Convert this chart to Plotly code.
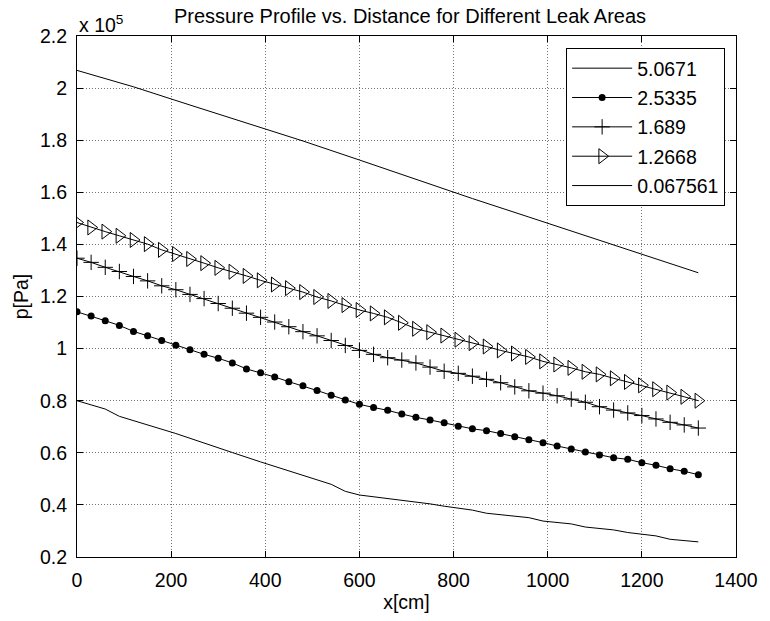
import plotly.graph_objects as go

# ---------------- data (pressure in units of 1e5 Pa) ----------------
legend_labels = ["5.0671", "2.5335", "1.689", "1.2668", "0.067561"]

x_marked = [i * 30 for i in range(45)]  # 0 .. 1320 cm

x_top = [0, 120, 240, 360, 480, 600, 720, 840, 960, 1080, 1200, 1320]
p_5_0671 = [2.068, 2.005, 1.935, 1.866, 1.797, 1.724, 1.650, 1.576, 1.505, 1.434, 1.363, 1.291]

p_2_5335 = [1.141, 1.125, 1.107, 1.089, 1.066, 1.049, 1.031, 1.013, 0.996, 0.978,
            0.963, 0.945, 0.922, 0.907, 0.891, 0.873, 0.857, 0.839, 0.821, 0.803,
            0.786, 0.774, 0.763, 0.749, 0.736, 0.726, 0.715, 0.702, 0.692, 0.685,
            0.674, 0.662, 0.650, 0.639, 0.626, 0.615, 0.603, 0.592, 0.581, 0.575,
            0.562, 0.552, 0.539, 0.529, 0.516]

p_1_689 = [1.347, 1.331, 1.312, 1.296, 1.277, 1.260, 1.241, 1.226, 1.208, 1.192,
           1.173, 1.155, 1.136, 1.120, 1.102, 1.084, 1.065, 1.049, 1.031, 1.012,
           0.993, 0.978, 0.965, 0.956, 0.945, 0.929, 0.913, 0.905, 0.894, 0.882,
           0.869, 0.853, 0.838, 0.829, 0.819, 0.806, 0.794, 0.777, 0.764, 0.753,
           0.743, 0.730, 0.717, 0.707, 0.695]

p_1_2668 = [1.484, 1.465, 1.449, 1.433, 1.417, 1.401, 1.379, 1.363, 1.344, 1.328,
            1.310, 1.295, 1.279, 1.262, 1.246, 1.232, 1.217, 1.198, 1.183, 1.167,
            1.148, 1.135, 1.120, 1.099, 1.076, 1.063, 1.050, 1.034, 1.021, 1.008,
            0.993, 0.981, 0.968, 0.951, 0.939, 0.926, 0.911, 0.901, 0.886, 0.872,
            0.859, 0.844, 0.831, 0.815, 0.800]

x_low = [0, 60, 90, 210, 330, 390, 540, 570, 600, 660, 690, 750, 780, 840, 870,
         960, 990, 1050, 1080, 1140, 1170, 1230, 1260, 1320]
p_0_067561 = [0.800, 0.768, 0.740, 0.674, 0.601, 0.565, 0.479, 0.452, 0.438, 0.425,
              0.418, 0.404, 0.395, 0.380, 0.368, 0.351, 0.338, 0.327, 0.315, 0.304,
              0.294, 0.281, 0.268, 0.258]

x_ticks = [0, 200, 400, 600, 800, 1000, 1200, 1400]
y_ticks = [0.2, 0.4, 0.6, 0.8, 1.0, 1.2, 1.4, 1.6, 1.8, 2.0, 2.2]

title_text = "Pressure Profile vs. Distance for Different Leak Areas"
x_title = "x[cm]"
y_title = "p[Pa]"
exponent_text = "x 10<sup>5</sup>"

# ---------------- figure ----------------
FONT = "Liberation Sans, Arial, Helvetica, sans-serif"
FS = 19.5

fig = go.Figure()

fig.add_trace(go.Scatter(x=x_top, y=p_5_0671, name=legend_labels[0], mode="lines",
                         line=dict(color="black", width=1), legendgroup="a"))
fig.add_trace(go.Scatter(x=x_marked, y=p_2_5335, name=legend_labels[1], mode="lines+markers",
                         line=dict(color="black", width=1),
                         marker=dict(symbol="circle", size=7, color="black"), legendgroup="b"))
fig.add_trace(go.Scatter(x=x_marked, y=p_1_689, name=legend_labels[2], mode="lines+markers",
                         line=dict(color="black", width=1),
                         marker=dict(symbol="cross-thin", size=11, color="black",
                                     line=dict(color="black", width=1)), legendgroup="c"))
fig.add_trace(go.Scatter(x=x_marked, y=p_1_2668, name=legend_labels[3], mode="lines+markers",
                         line=dict(color="black", width=1),
                         marker=dict(symbol="triangle-right-open", size=13, color="black",
                                     line=dict(color="black", width=1)), legendgroup="d"))
fig.add_trace(go.Scatter(x=x_low, y=p_0_067561, name=legend_labels[4], mode="lines",
                         line=dict(color="black", width=1), legendgroup="e"))

axis_common = dict(
    showline=True, linecolor="black", linewidth=1, mirror="ticks",
    ticks="inside", ticklen=6, tickcolor="black", tickwidth=1,
    showgrid=True, gridcolor="rgba(0,0,0,0.55)", griddash="1px,2px", gridwidth=1,
    zeroline=False, tickfont=dict(family=FONT, size=FS, color="black"),
)

fig.update_xaxes(range=[0, 1400], tickvals=x_ticks, ticklabelstandoff=6,
                 title=dict(text=x_title, font=dict(family=FONT, size=FS, color="black"), standoff=4),
                 **axis_common)
fig.update_yaxes(range=[0.2, 2.2], tickvals=y_ticks, ticktext=[f"{v:g}" for v in y_ticks],
                 ticklabelstandoff=5,
                 title=dict(text=y_title, font=dict(family=FONT, size=FS, color="black"), standoff=6),
                 **axis_common)

fig.add_annotation(text=exponent_text, xref="paper", yref="paper", x=0, y=1,
                   xanchor="left", yanchor="bottom", showarrow=False, yshift=-2,
                   font=dict(family=FONT, size=FS, color="black"))

fig.update_layout(
    width=770, height=621,
    margin=dict(l=77, r=27, t=36, b=58),
    paper_bgcolor="white", plot_bgcolor="white",
    font=dict(family=FONT, size=FS, color="black"),
    title=dict(text=title_text, x=0.5325, xanchor="center", y=0.974, yanchor="middle",
               xref="container", yref="container",
               font=dict(family=FONT, size=20, color="black")),
    legend=dict(x=0.9835, y=0.977, xanchor="right", yanchor="top",
                bordercolor="black", borderwidth=1, bgcolor="white",
                font=dict(family=FONT, size=FS, color="black"),
                tracegroupgap=1, itemwidth=60),
    showlegend=True,
)

fig.write_html("out.html")
